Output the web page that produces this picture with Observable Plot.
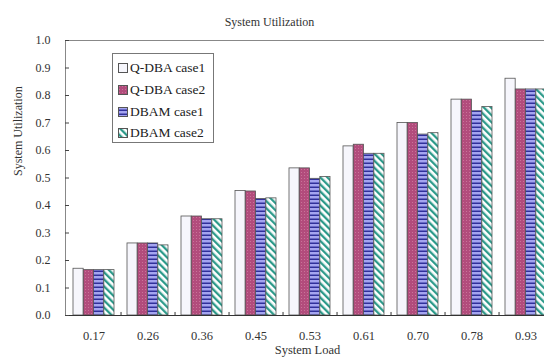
<!DOCTYPE html>
<html>
<head>
<meta charset="utf-8">
<script src="https://cdn.jsdelivr.net/npm/d3@7"></script>
<script src="https://cdn.jsdelivr.net/npm/@observablehq/plot@0.6"></script>
<style>
  html, body { margin: 0; padding: 0; background: #fff; width: 544px; height: 363px; overflow: hidden; }
  #wrap { position: relative; width: 544px; height: 363px; overflow: hidden; }
  #chart svg { max-width: none !important; width: 560px !important; height: 363px !important; display: block; }
  #legend { position: absolute; left: 112px; top: 53px; width: 100px; height: 88px; border: 1px solid #777; background: #fff;
    font-family: "Liberation Serif", "DejaVu Serif", serif; font-size: 13.5px; color: #222; }
  .row { position: absolute; left: 5px; height: 16px; line-height: 16px; white-space: nowrap; }
  .row svg { vertical-align: -1px; margin-right: 2px; }
</style>
</head>
<body>
<svg width="0" height="0" style="position:absolute">
  <defs>
    <pattern id="p1" width="4" height="4" patternUnits="userSpaceOnUse">
      <rect width="4" height="4" fill="#f6f6fc"/>
    </pattern>
    <pattern id="p2" width="3" height="3" patternUnits="userSpaceOnUse">
      <rect width="3" height="3" fill="#b24c7c"/>
      <rect x="1" y="1" width="1" height="1" fill="#c97399"/>
    </pattern>
    <pattern id="p3" width="4" height="4" patternUnits="userSpaceOnUse">
      <rect width="4" height="4" fill="#a4a4f0"/>
      <rect y="2.5" width="4" height="1.5" fill="#30309a"/>
    </pattern>
    <pattern id="p4" width="5" height="5" patternUnits="userSpaceOnUse" patternTransform="rotate(-45)">
      <rect width="5" height="5" fill="#ffffff"/>
      <rect width="2.3" height="5" fill="#2c9a8a"/>
    </pattern>
  </defs>
</svg>
<div id="wrap">
  <div id="chart"></div>
  <div id="legend"></div>
</div>
<script>
const loads = ["0.17", "0.26", "0.36", "0.45", "0.53", "0.61", "0.70", "0.78", "0.93"];
const seriesNames = ["Q-DBA case1", "Q-DBA case2", "DBAM case1", "DBAM case2"];
const qdbaCase1 = [0.170, 0.262, 0.360, 0.453, 0.535, 0.615, 0.700, 0.785, 0.861];
const qdbaCase2 = [0.165, 0.262, 0.360, 0.451, 0.535, 0.621, 0.700, 0.785, 0.822];
const dbamCase1 = [0.165, 0.262, 0.350, 0.424, 0.497, 0.588, 0.658, 0.743, 0.822];
const dbamCase2 = [0.165, 0.255, 0.350, 0.426, 0.504, 0.588, 0.663, 0.758, 0.822];
const yTicks = [0, 0.1, 0.2, 0.3, 0.4, 0.5, 0.6, 0.7, 0.8, 0.9, 1.0];

const seriesValues = [qdbaCase1, qdbaCase2, dbamCase1, dbamCase2];
const fills = ["url(#p1)", "url(#p2)", "url(#p3)", "url(#p4)"];

const xRange = [65, 555];
const padIn = 0.24, padOut = 0.15;
const step = (xRange[1] - xRange[0]) / (loads.length - padIn + 2 * padOut);
const bw = step * (1 - padIn);
const barW = bw / 4;

const rows = [];
seriesValues.forEach((vals, s) => vals.forEach((v, i) => rows.push({load: loads[i], series: s, value: v})));

const serif = "Liberation Serif, DejaVu Serif, serif";

const marks = [
  Plot.frame({stroke: "#888"}),
  ...seriesValues.map((vals, s) => Plot.barY(rows.filter(d => d.series === s), {
    x: "load", y: "value", fill: fills[s], stroke: "#555", strokeWidth: 0.8,
    insetLeft: s * barW, insetRight: (3 - s) * barW
  })),
  Plot.ruleY([0], {stroke: "#333"}),
  Plot.ruleX(loads, {x: d => d, y1: 0, y2: 0.011, dx: step / 2, stroke: "#333"}),
  Plot.axisY({ticks: yTicks, tickSize: -4, tickFormat: () => "", stroke: "#444"}),
  Plot.axisY({ticks: yTicks, tickSize: 0, tickPadding: 15, tickFormat: d3.format(".1f"), label: null,
    fontFamily: serif, fontSize: 12, fill: "#333"}),
  Plot.axisX({tickSize: 0, tickPadding: 16, label: null, fontFamily: serif, fontSize: 12.5, fill: "#333"}),
  Plot.text(["System Utilization"], {frameAnchor: "top-left", dx: 204, dy: -23, textAnchor: "middle",
    fontFamily: serif, fontSize: 12, fill: "#333"}),
  Plot.text(["System Utilization"], {frameAnchor: "left", dx: -47, dy: -2, rotate: -90,
    fontFamily: serif, fontSize: 12, fill: "#333"}),
  Plot.text(["System Load"], {frameAnchor: "bottom-left", dx: 242, dy: 38, textAnchor: "middle",
    fontFamily: serif, fontSize: 12.5, fill: "#333"})
];

const chart = Plot.plot({
  width: 560,
  height: 363,
  marginLeft: 65,
  marginRight: 5,
  marginTop: 40,
  marginBottom: 48,
  style: {background: "#fff", fontFamily: serif, maxWidth: "none"},
  x: {domain: loads, range: xRange, paddingInner: padIn, paddingOuter: padOut, label: null, axis: null},
  y: {domain: [0, 1], label: null, axis: null},
  marks
});
document.getElementById("chart").appendChild(chart);

const legend = document.getElementById("legend");
const rowTops = [6, 28, 50, 71];
seriesNames.forEach((name, s) => {
  const r = document.createElement("div");
  r.className = "row";
  r.style.top = rowTops[s] + "px";
  r.innerHTML = `<svg width="10" height="10"><rect x="0.5" y="0.5" width="9" height="9" fill="${fills[s]}" stroke="#555"/></svg>${name}`;
  legend.appendChild(r);
});
</script>
</body>
</html>
